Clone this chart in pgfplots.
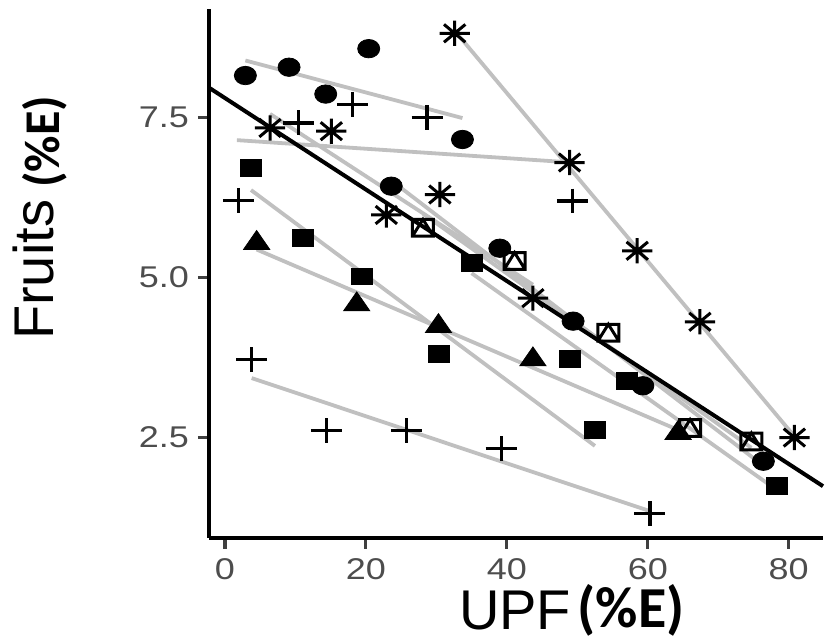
\documentclass[border=0pt]{standalone}
\usepackage{pgfplots}
\pgfplotsset{compat=1.18}
\usepackage{fontspec}
\setmainfont{Liberation Sans}
\newfontfamily\carlito{Carlito}
\newfontfamily\tickfont[FakeStretch=1.2]{Liberation Sans}
\definecolor{fitgray}{RGB}{192,192,192}
\definecolor{ticktext}{RGB}{77,77,77}
\pgfdeclareplotmark{ast8}{%
  \pgfpathmoveto{\pgfqpoint{-\pgfplotmarksize}{0pt}}\pgfpathlineto{\pgfqpoint{\pgfplotmarksize}{0pt}}%
  \pgfpathmoveto{\pgfqpoint{0pt}{-\pgfplotmarksize}}\pgfpathlineto{\pgfqpoint{0pt}{\pgfplotmarksize}}%
  \pgfpathmoveto{\pgfqpoint{-.707\pgfplotmarksize}{-.707\pgfplotmarksize}}\pgfpathlineto{\pgfqpoint{.707\pgfplotmarksize}{.707\pgfplotmarksize}}%
  \pgfpathmoveto{\pgfqpoint{-.707\pgfplotmarksize}{.707\pgfplotmarksize}}\pgfpathlineto{\pgfqpoint{.707\pgfplotmarksize}{-.707\pgfplotmarksize}}%
  \pgfusepathqstroke}
\pgfdeclareplotmark{sqtri}{%
  \pgfpathrectangle{\pgfqpoint{-\pgfplotmarksize}{-\pgfplotmarksize}}{\pgfqpoint{2\pgfplotmarksize}{2\pgfplotmarksize}}%
  \pgfpathmoveto{\pgfqpoint{-\pgfplotmarksize}{-\pgfplotmarksize}}\pgfpathlineto{\pgfqpoint{0pt}{\pgfplotmarksize}}\pgfpathlineto{\pgfqpoint{\pgfplotmarksize}{-\pgfplotmarksize}}%
  \pgfusepathqstroke}
\begin{document}
\begin{tikzpicture}
\path[use as bounding box] (-104.5pt,-52pt) rectangle (308pt,269pt);
\begin{axis}[
  at={(0pt,0pt)}, anchor=south west, scale only axis,
  width=307pt, height=264.5pt,
  xmin=-2.26, xmax=84.86, ymin=0.93, ymax=9.20,
  axis x line*=bottom, axis y line*=left,
  axis line style={line width=1.6pt, -},
  xtick={0,20,40,60,80}, ytick={2.5,5,7.5}, yticklabels={2.5,5.0,7.5},
  tick align=outside, major tick length=5.5pt,
  every tick/.style={line width=1.6pt, color=black!75},
  tick label style={font=\tickfont\fontsize{15}{15}\selectfont, text=ticktext},
  xticklabel style={yshift=-1pt},
  yticklabel style={xshift=-1pt},
  /pgf/number format/assume math mode=true,
  clip=false,
]
% markers
\addplot[only marks, mark=*, mark size=4.6pt, mark options={xscale=1.2, fill=black, draw=black}] coordinates {
 (2.9,8.16) (9.1,8.29) (14.3,7.87) (20.4,8.58) (33.7,7.16)
 (23.6,6.43) (39.0,5.46) (49.4,4.32) (59.3,3.31) (76.4,2.13)};
\addplot[only marks, mark=+, mark size=6.2pt, mark options={xscale=1.25, line width=1.7pt, draw=black}] coordinates {
 (1.9,6.21) (10.4,7.42) (18.1,7.71) (28.7,7.50) (49.3,6.20)
 (3.8,3.72) (14.4,2.61) (25.8,2.61) (39.2,2.33) (60.3,1.31)};
\addplot[only marks, mark=ast8, mark size=6.3pt, mark options={xscale=1.2, line width=1.5pt, draw=black}] coordinates {
 (32.6,8.82) (48.9,6.80) (58.5,5.42) (67.4,4.31) (80.8,2.50)
 (6.4,7.34) (15.1,7.29) (22.9,5.98) (30.5,6.30) (43.7,4.68)};
\addplot[only marks, mark=square*, mark size=4.2pt, mark options={xscale=1.25, fill=black, draw=black}] coordinates {
 (3.7,6.71) (11.1,5.62) (19.4,5.02) (30.4,3.81) (52.5,2.62)
 (35.0,5.23) (48.9,3.73) (57.0,3.38) (78.3,1.74)};
\addplot[only marks, mark=triangle*, mark size=6.3pt, mark options={xscale=1.2, fill=black, draw=black}] coordinates {
 (4.5,5.54) (18.7,4.58) (30.3,4.24) (43.7,3.72) (64.3,2.57)};
\addplot[only marks, mark=sqtri, mark size=4.2pt, mark options={xscale=1.25, line width=1.5pt, draw=black}] coordinates {
 (28.1,5.78) (41.1,5.26) (54.4,4.14) (66.0,2.65) (74.7,2.44)};
% group fit lines
\addplot[fitgray, line width=1.9pt] coordinates {(2.9,8.395) (33.7,7.495)};
\addplot[fitgray, line width=1.9pt] coordinates {(1.7,7.15) (49.3,6.80)};
\addplot[fitgray, line width=1.9pt] coordinates {(32.6,8.86) (80.8,2.52)};
\addplot[fitgray, line width=1.9pt] coordinates {(6.4,7.56) (43.7,4.89)};
\addplot[fitgray, line width=1.9pt] coordinates {(3.7,6.37) (52.5,2.37)};
\addplot[fitgray, line width=1.9pt] coordinates {(4.5,5.44) (64.5,2.61)};
\addplot[fitgray, line width=1.9pt] coordinates {(3.8,3.43) (60.3,1.35)};
\addplot[fitgray, line width=1.9pt] coordinates {(23.6,6.52) (76.4,2.06)};
\addplot[fitgray, line width=1.9pt] coordinates {(35.0,5.07) (78.3,1.68)};
\addplot[fitgray, line width=1.9pt] coordinates {(28.1,6.00) (74.7,2.34)};
% overall fit
\addplot[black, line width=2pt] coordinates {(-2.26,7.97) (84.86,1.74)};
\end{axis}
\node[rotate=90, font=\fontsize{28}{28}\selectfont] at (-88pt,134pt) {Fruits};
\node[rotate=90, font=\carlito\bfseries\fontsize{25}{25}\selectfont] at (-82pt,198pt) {(\%E)};
\node[font=\fontsize{28}{28}\selectfont] at (153pt,-36.5pt) {UPF};
\node[font=\carlito\bfseries\fontsize{29}{29}\selectfont] at (211pt,-36pt) {(\%E)};
\end{tikzpicture}
\end{document}
